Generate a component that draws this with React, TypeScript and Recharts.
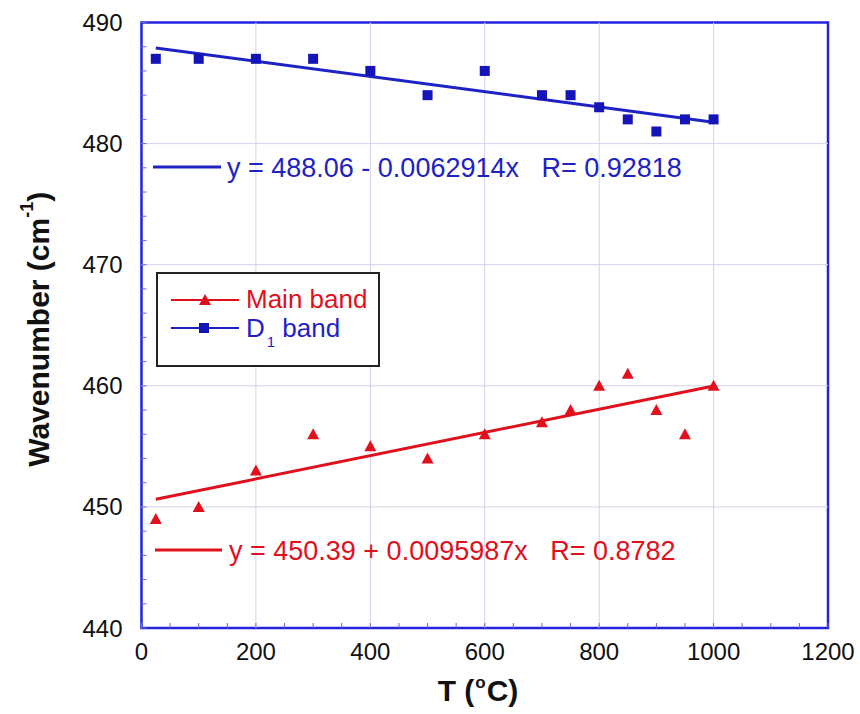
import {
    ScatterChart, Scatter, XAxis, YAxis, ReferenceLine, ReferenceArea, Legend,
} from "recharts";

// measured points (T in °C, wavenumber in cm-1)
const TEMPS = [25, 100, 200, 300, 400, 500, 600, 700, 750, 800, 850, 900, 950, 1000];
const D1_BAND = [487, 487, 487, 487, 486, 484, 486, 484, 484, 483, 482, 481, 482, 482];
const MAIN_BAND = [449, 450, 453, 456, 455, 454, 456, 457, 458, 460, 461, 458, 456, 460];

// linear fit end points
const FIT_T = [25, 1000];
const D1_FIT = [487.9, 481.77];
const MAIN_FIT = [450.63, 459.99];

const X_TICKS = [0, 50, 100, 150, 200, 250, 300, 350, 400, 450, 500, 550, 600, 650, 700, 750, 800, 850, 900, 950, 1000, 1050, 1100, 1150, 1200];
const X_MAJOR = [200, 400, 600, 800, 1000];
const Y_TICKS = [440, 442, 444, 446, 448, 450, 452, 454, 456, 458, 460, 462, 464, 466, 468, 470, 472, 474, 476, 478, 480, 482, 484, 486, 488, 490];
const Y_MAJOR = [450, 460, 470, 480];

const D1_EQ = "y = 488.06 - 0.0062914x   R= 0.92818";
const MAIN_EQ = "y = 450.39 + 0.0095987x   R= 0.8782";

const BLUE = "#1414b8";
const BLUE_LINE = "#1e22c4";
const BORDER = "#2323e0";
const RED = "#e0101c";
const GRID = "#d2d2ea";
const TICK = "#6a6ac8";
const FONT = "Arial, 'Liberation Sans', sans-serif";

const toPoints = (xs: number[], ys: number[]) => xs.map((x, i) => ({ x, y: ys[i] }));

const BottomTick = (p: any) => {
    const v = p.payload.value;
    return (
        <g>
            <line x1={p.x} x2={p.x} y1={p.y} y2={p.y - 5} stroke={TICK} />
            {v % 200 === 0 && (
                <text x={p.x} y={p.y + 32} textAnchor="middle" fontSize={24} fontFamily={FONT} fill="#111">{v}</text>
            )}
        </g>
    );
};

const TopTick = (p: any) => <line x1={p.x} x2={p.x} y1={p.y} y2={p.y + 5} stroke={TICK} />;

const LeftTick = (p: any) => {
    const v = p.payload.value;
    return (
        <g>
            <line x1={p.x} x2={p.x + 5} y1={p.y} y2={p.y} stroke={TICK} />
            {v % 10 === 0 && (
                <text x={p.x - 19} y={p.y + 8.5} textAnchor="end" fontSize={24} fontFamily={FONT} fill="#111">{v}</text>
            )}
        </g>
    );
};

const RightTick = (p: any) => <line x1={p.x} x2={p.x - 5} y1={p.y} y2={p.y} stroke={TICK} />;

const Square = (p: any) => <rect x={p.cx - 5} y={p.cy - 5} width={10} height={10} fill={BLUE} />;
const Triangle = (p: any) => (
    <polygon points={`${p.cx},${p.cy - 6} ${p.cx + 6},${p.cy + 5} ${p.cx - 6},${p.cy + 5}`} fill={RED} />
);

const LegendBox = () => (
    <svg width={226} height={97} style={{ display: "block" }}>
        <rect x={1} y={1} width={222} height={93} fill="#fff" stroke="#222" strokeWidth={2} />
        <line x1={15} x2={83} y1={28} y2={28} stroke={RED} strokeWidth={2} />
        <polygon points="49,22 55,33 43,33" fill={RED} />
        <text x={90} y={36} fontSize={26} fontFamily={FONT} fill={RED}>Main band</text>
        <line x1={15} x2={83} y1={56} y2={56} stroke={BLUE_LINE} strokeWidth={2} />
        <rect x={43} y={51} width={10} height={10} fill={BLUE} />
        <text x={90} y={65} fontSize={26} fontFamily={FONT} fill={BLUE_LINE}>
            D<tspan fontSize={15} dy={10} dx={2}>1</tspan><tspan dy={-10}> band</tspan>
        </text>
    </svg>
);

export default function App() {
    return (
        <div style={{ position: "absolute", left: 0, top: 0, width: 860, height: 714, background: "#fff" }}>
            <ScatterChart width={860} height={714} margin={{ top: 21.5, right: 31, left: 0, bottom: 0 }}>
                <XAxis dataKey="x" type="number" domain={[0, 1200]} ticks={X_TICKS} interval={0}
                    height={86} tickSize={0} tickMargin={0} tickLine={false} axisLine={false} tick={<BottomTick />} />
                <XAxis xAxisId="top" orientation="top" dataKey="x" type="number" domain={[0, 1200]} ticks={X_TICKS}
                    interval={0} height={1} tickSize={0} tickMargin={0} tickLine={false} axisLine={false} tick={<TopTick />} />
                <YAxis dataKey="y" type="number" domain={[440, 490]} ticks={Y_TICKS} interval={0}
                    width={141.5} tickSize={0} tickMargin={0} tickLine={false} axisLine={false} tick={<LeftTick />}
                    label={({ viewBox }: any) => {
                        const cx = 38;
                        const cy = viewBox.y + viewBox.height / 2 + 4;
                        return (
                            <text x={cx} y={cy} transform={`rotate(-90, ${cx}, ${cy})`} textAnchor="middle"
                                dominantBaseline="central" fontSize={30} fontWeight="bold" fontFamily={FONT} fill="#111">
                                Wavenumber (cm<tspan fontSize={18} dy={-11}>-1</tspan><tspan dy={11}>)</tspan>
                            </text>
                        );
                    }} />
                <YAxis yAxisId="right" orientation="right" dataKey="y" type="number" domain={[440, 490]} ticks={Y_TICKS}
                    interval={0} width={1} tickSize={0} tickMargin={0} tickLine={false} axisLine={false} tick={<RightTick />} />

                {X_MAJOR.map((v) => <ReferenceLine key={"gx" + v} x={v} stroke={GRID} strokeWidth={1} />)}
                {Y_MAJOR.map((v) => <ReferenceLine key={"gy" + v} y={v} stroke={GRID} strokeWidth={1} />)}
                <ReferenceArea x1={0} x2={1200} y1={440} y2={490} fill="none" fillOpacity={0} stroke={BORDER} strokeWidth={2.5} />

                <Legend layout="horizontal" verticalAlign="middle" align="center"
                    wrapperStyle={{ left: 156, top: 272, width: 226, height: 97 }}
                    content={() => <LegendBox />} />

                <Scatter name="D1 fit" data={toPoints(FIT_T, D1_FIT)} shape={() => <g />}
                    line={{ stroke: BLUE_LINE, strokeWidth: 3 }} isAnimationActive={false} legendType="none" />
                <Scatter name="Main fit" data={toPoints(FIT_T, MAIN_FIT)} shape={() => <g />}
                    line={{ stroke: RED, strokeWidth: 3 }} isAnimationActive={false} legendType="none" />
                <Scatter name="D1 band" data={toPoints(TEMPS, D1_BAND)} shape={<Square />} isAnimationActive={false} />
                <Scatter name="Main band" data={toPoints(TEMPS, MAIN_BAND)} shape={<Triangle />} isAnimationActive={false} />
            </ScatterChart>

            {/* fit equations and x title */}
            <svg width={860} height={714} style={{ position: "absolute", left: 0, top: 0, pointerEvents: "none" }}>
                <line x1={153} x2={221} y1={167} y2={167} stroke={BLUE_LINE} strokeWidth={3} />
                <text x={227} y={176.5} fontSize={27} fontFamily={FONT} fill={BLUE_LINE} style={{ whiteSpace: "pre" }}>{D1_EQ}</text>
                <line x1={155} x2={222} y1={550} y2={550} stroke={RED} strokeWidth={3} />
                <text x={229} y={559.5} fontSize={27} fontFamily={FONT} fill={RED} style={{ whiteSpace: "pre" }}>{MAIN_EQ}</text>
                <text x={478} y={701} textAnchor="middle" fontSize={30} fontWeight="bold" fontFamily={FONT} fill="#111">
                    T (<tspan fontSize={17} dy={-13} dx={1}>o</tspan><tspan dy={13} dx={1}>C)</tspan>
                </text>
            </svg>
        </div>
    );
}
